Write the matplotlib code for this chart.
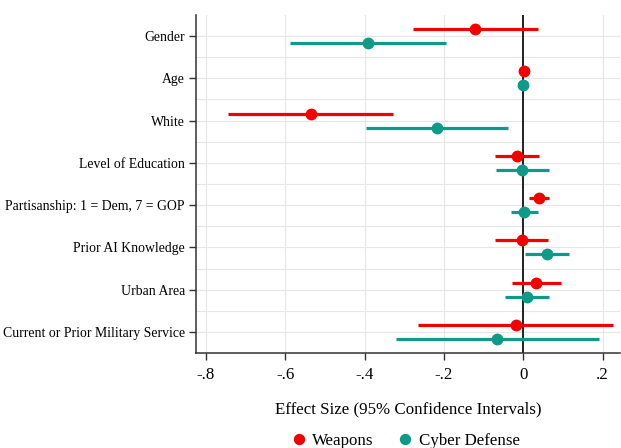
import matplotlib.pyplot as plt
import numpy as np

plt.rcParams['font.family'] = ['Liberation Serif', 'DejaVu Serif']

variables = ['Gender', 'Age', 'White', 'Level of Education',
             'Partisanship: 1 = Dem, 7 = GOP', 'Prior AI Knowledge',
             'Urban Area', 'Current or Prior Military Service']

# Weapons: estimate, lower, upper
weap_est = [-0.122, 0.001, -0.536, -0.016, 0.040, -0.004, 0.033, -0.019]
weap_lo = [-0.279, -0.004, -0.744, -0.071, 0.015, -0.071, -0.029, -0.265]
weap_hi = [0.036, 0.006, -0.328, 0.039, 0.066, 0.063, 0.094, 0.226]

# Cyber Defense
cyb_est = [-0.391, -0.001, -0.218, -0.002, 0.002, 0.060, 0.009, -0.065]
cyb_lo = [-0.588, -0.005, -0.397, -0.069, -0.032, 0.004, -0.046, -0.320]
cyb_hi = [-0.195, 0.003, -0.039, 0.064, 0.036, 0.115, 0.065, 0.191]

xticks = [-0.8, -0.6, -0.4, -0.2, 0, 0.2]
xticklabels = ['-.8', '-.6', '-.4', '-.2', '0', '.2']

red = '#f20000'
teal = '#0d9a86'

fig = plt.figure(figsize=(6.21, 4.48), dpi=100)
ax = fig.add_axes([196 / 621, 95 / 448, 424 / 621, 338 / 448])

pos = np.arange(1, len(variables) + 1)
off = 0.165

# grid lines
for v in xticks:
    ax.axvline(v, color='#e6e6e6', lw=0.8, zorder=0)
for y in np.arange(1, 8.6, 0.5):
    ax.axhline(y, color='#e6e6e6', lw=0.8, zorder=0)
ax.axvline(0, color='#222222', lw=1.4, zorder=1)

ax.hlines(pos - off, weap_lo, weap_hi, color=red, lw=2.3, zorder=2)
ax.plot(weap_est, pos - off, 'o', color=red, ms=7.5, zorder=3, label='Weapons')
ax.hlines(pos + off, cyb_lo, cyb_hi, color=teal, lw=2.3, zorder=2)
ax.plot(cyb_est, pos + off, 'o', color=teal, ms=7.5, zorder=3, label='Cyber Defense')

ax.set_xlim(-0.825, 0.244)
ax.set_ylim(8.5, 0.5)
ax.set_yticks(pos)
ax.set_yticklabels(variables, fontsize=9.9)
ax.set_xticks(xticks)
ax.set_xticklabels(xticklabels, fontsize=12.2)
ax.tick_params(axis='both', length=5, width=1, color='#333333')
ax.tick_params(axis='x', pad=5)
ax.tick_params(axis='y', pad=3)

for s in ['top', 'right']:
    ax.spines[s].set_visible(False)
for s in ['left', 'bottom']:
    ax.spines[s].set_color('#333333')
    ax.spines[s].set_linewidth(1.1)

ax.set_xlabel('Effect Size (95% Confidence Intervals)', fontsize=12.2, labelpad=13)

ax.legend(loc='center', bbox_to_anchor=(0.495, -0.26), ncol=2, frameon=False,
          fontsize=12.2, handlelength=0.8, handletextpad=0.4, columnspacing=1.45,
          markerscale=0.95, borderpad=0, borderaxespad=0)

fig.savefig('out.png', dpi=100)
